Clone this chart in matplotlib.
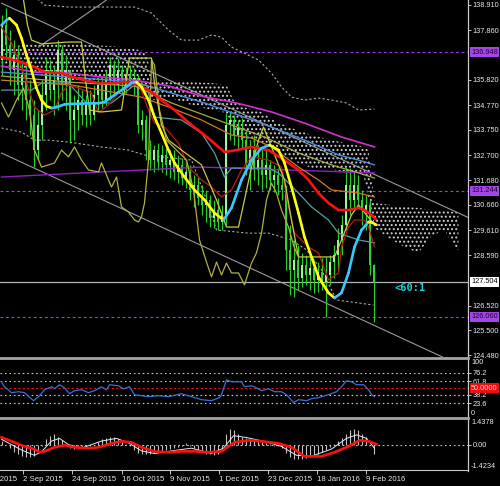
import numpy as np
import matplotlib
matplotlib.use("Agg")
import matplotlib.pyplot as plt
import matplotlib.transforms as mtransforms
from matplotlib.collections import LineCollection
from matplotlib.lines import Line2D

plt.rcParams['font.family'] = ['Liberation Sans', 'DejaVu Sans']
plt.rcParams['hatch.color'] = '#d0d0d0'
plt.rcParams['hatch.linewidth'] = 0.9

# ---------------- data ----------------
bar_open = [136.63, 138.07, 137.24, 136.21, 136.83, 135.60, 136.01, 134.98, 134.36, 132.92,
            133.95, 135.19, 136.21, 135.39, 135.80, 137.04, 135.60, 136.21, 134.16, 134.57,
            134.98, 134.36, 134.78, 134.36, 135.19, 135.60, 134.98, 135.80, 136.42, 135.60,
            136.21, 135.80, 136.01, 135.72, 135.89, 133.95, 134.16, 132.92, 132.51, 132.92,
            132.43, 132.72, 132.31, 132.51, 132.02, 132.31, 131.77, 132.02, 131.28, 131.48,
            130.95, 130.66, 130.87, 130.12, 130.45, 129.96, 130.25, 133.95, 134.16, 133.54,
            133.83, 133.33, 132.31, 132.92, 132.10, 132.51, 131.90, 132.31, 131.69, 131.90,
            131.48, 131.28, 128.81, 127.99, 128.40, 127.66, 128.19, 127.78, 128.07, 127.57,
            127.90, 127.49, 127.78, 128.31, 128.60, 129.22, 129.84, 131.48, 130.87, 131.48,
            130.87, 130.45, 130.66, 128.19]
bar_close = [138.07, 137.24, 136.21, 136.83, 135.60, 136.01, 134.98, 134.36, 132.92, 133.95,
             135.19, 136.21, 135.39, 135.80, 137.04, 135.60, 136.21, 134.16, 134.57, 134.98,
             134.36, 134.78, 134.36, 135.19, 135.60, 134.98, 135.80, 136.42, 135.60, 136.21,
             135.80, 136.01, 135.72, 135.89, 133.95, 134.16, 132.92, 132.51, 132.92, 132.43,
             132.72, 132.31, 132.51, 132.02, 132.31, 131.77, 132.02, 131.28, 131.48, 130.95,
             130.66, 130.87, 130.12, 130.45, 129.96, 130.25, 133.95, 134.16, 133.54, 133.83,
             133.33, 132.31, 132.92, 132.10, 132.51, 131.90, 132.31, 131.69, 131.90, 131.48,
             131.28, 128.81, 127.99, 128.40, 127.66, 128.19, 127.78, 128.07, 127.57, 127.90,
             127.49, 127.78, 128.31, 128.60, 129.22, 129.84, 131.48, 130.87, 131.48, 130.87,
             130.45, 130.66, 128.19, 127.50]
bar_high = [138.48, 138.77, 137.86, 137.45, 137.24, 136.63, 136.42, 135.80, 134.98, 134.57,
            135.80, 136.75, 136.63, 136.42, 137.45, 137.24, 136.83, 136.21, 135.19, 135.60,
            135.39, 135.19, 135.39, 135.60, 135.93, 135.80, 136.21, 136.75, 136.63, 136.71,
            136.42, 136.34, 136.42, 136.30, 136.01, 134.57, 134.36, 133.33, 133.13, 133.21,
            133.13, 133.00, 132.92, 132.92, 132.72, 132.60, 132.51, 132.31, 131.90, 131.77,
            131.48, 131.28, 131.07, 130.87, 130.95, 130.66, 134.45, 134.49, 134.36, 134.16,
            134.24, 133.75, 133.33, 133.54, 133.13, 133.00, 132.92, 132.51, 132.31, 132.18,
            132.10, 131.48, 129.84, 129.22, 129.01, 128.69, 128.60, 128.48, 128.40, 128.31,
            128.48, 128.52, 128.60, 129.01, 129.71, 130.25, 132.22, 132.18, 132.02, 131.90,
            131.28, 131.07, 130.87, 128.25]
bar_low = [136.01, 136.63, 135.60, 135.19, 134.98, 134.57, 134.16, 133.54, 132.22, 132.51,
           133.33, 134.57, 134.98, 134.36, 134.57, 134.98, 134.57, 133.21, 133.33, 133.75,
           133.95, 133.87, 133.95, 134.16, 134.57, 134.65, 134.78, 134.98, 135.19, 135.39,
           135.19, 135.27, 135.47, 135.19, 133.62, 133.33, 132.51, 132.10, 132.02, 132.10,
           132.02, 131.90, 131.77, 131.69, 131.56, 131.48, 131.36, 130.87, 130.58, 130.66,
           130.25, 129.96, 129.75, 129.71, 129.63, 129.63, 129.84, 133.33, 133.13, 132.92,
           133.00, 131.90, 131.28, 131.69, 131.48, 131.28, 131.36, 131.28, 131.19, 131.07,
           130.87, 127.99, 126.96, 126.87, 127.16, 127.29, 127.37, 127.16, 127.04, 127.08,
           127.16, 126.05, 127.37, 127.66, 127.99, 128.60, 129.63, 130.25, 130.45, 130.54,
           129.84, 129.63, 127.78, 125.85]

fast_x = [0, 1.25, 2, 3.75, 5, 6.25, 7.5, 8.75, 10, 11.25, 12.5, 13.75, 15.75, 17, 19.25,
          21.75, 24.25, 25.75, 27.5, 29.25, 30.75, 32.5, 33.75, 35, 36.75, 38.25, 40, 41.75,
          43.25, 45.75, 48.25, 50.75, 53.25, 55.5, 57.5, 60, 62.5, 65, 67, 69.25, 70.75, 72.5,
          74.25, 75.75, 77.5, 79.25, 81.75, 83.25, 85, 86.75, 88.25, 90, 91.75, 92.5, 93.75]
fast_y = [138.07, 138.27, 138.35, 138.07, 137.53, 136.83, 136.21, 135.47, 134.98, 134.73,
          134.65, 134.69, 134.80, 134.82, 134.83, 134.84, 134.85, 134.90, 135.10, 135.31,
          135.47, 135.68, 135.72, 135.52, 134.98, 134.28, 133.62, 132.92, 132.39, 131.81,
          131.28, 130.87, 130.33, 130.04, 130.54, 131.69, 132.51, 133.00, 133.13, 132.92,
          132.39, 131.40, 130.33, 129.34, 128.52, 127.70, 127.04, 126.83, 127.04, 127.86,
          128.93, 129.63, 129.96, 129.95, 129.84]

red_x = [0, 5, 8.25, 10.75, 15, 17.5, 20.75, 24.25, 27.5, 30.75, 33.25, 36.75, 40, 43.25,
         47.5, 50.75, 54.25, 55.75, 58.75, 62.5, 66.75, 70.75, 74.25, 76.75, 79.25, 81.75,
         84.25, 86.75, 89.25, 90.75, 92.5, 93.5]
red_y = [136.75, 136.54, 136.34, 136.13, 136.09, 135.93, 135.80, 135.68, 135.68, 135.72,
         135.68, 135.39, 134.98, 134.57, 133.95, 133.54, 133.05, 132.84, 132.92, 133.05,
         132.92, 132.51, 132.10, 131.69, 131.15, 130.74, 130.45, 130.45, 130.54, 130.45,
         130.25, 130.08]

mag_x = [0, 8.25, 16.75, 25, 33.25, 41.75, 50, 58.75, 67.5, 75.75, 85, 89.25, 93.25]
mag_y = [136.38, 136.13, 136.09, 135.93, 135.80, 135.56, 135.14, 134.86, 134.49, 134.03,
         133.46, 133.25, 133.05]

blue_x = [0, 16.75, 33.25, 42.5, 50.75, 59.25, 67.5, 75.75, 84.25, 89.25, 93.25]
blue_y = [136.13, 135.93, 135.72, 135.27, 134.86, 134.36, 133.87, 133.33, 132.72, 132.51, 132.31]

olv_x = [0, 16.75, 33.25, 42.5, 50.75, 57.5, 65.75, 74.25, 82.5, 89.25, 93.25]
olv_y = [135.97, 135.72, 135.56, 134.86, 134.36, 133.95, 133.46, 132.80, 132.31, 131.98, 131.77]

org_x = [0, 17.5, 35, 42.5, 50, 57.5, 62.5, 67.5, 74.25, 79.25, 82.5, 89.25, 93.25]
org_y = [135.80, 135.60, 135.10, 134.65, 134.16, 133.54, 133.42, 133.05, 132.22, 131.69,
         131.28, 131.15, 130.99]

teal_x = [0, 7.5, 10, 16.75, 21.25, 27.5, 33.25, 36.25, 38.25, 45, 50, 53.25, 55.75, 57.5,
          66.75, 69.25, 74.25, 77.5, 81.75, 84.25, 89.25, 93.25]
teal_y = [135.39, 135.39, 135.68, 135.68, 134.86, 134.86, 135.60, 135.60, 134.28, 134.16,
          133.62, 132.80, 131.81, 132.18, 132.18, 131.98, 131.15, 130.58, 130.04, 129.50,
          129.22, 129.10]

dred_x = [0, 2.5, 5, 8.25, 10.75, 13.25, 15, 16.75, 19.25, 22.5, 24.25, 26.75, 29.25, 31.75,
          34.25, 36.75, 38.25, 40.75, 44.25, 46.75, 50, 52.5, 55, 57.5, 60, 62.5, 66.75, 70,
          71.75, 73.25, 76.75, 79.25, 81.75, 84.25, 85, 86.75, 88.25, 90.75, 91.75, 93.25]
dred_y = [137.98, 137.33, 136.34, 134.69, 134.36, 134.57, 135.27, 135.60, 135.47, 135.27,
          134.45, 134.78, 135.27, 135.52, 135.68, 134.57, 134.03, 133.87, 133.21, 132.22,
          131.69, 131.40, 130.99, 131.28, 132.10, 132.64, 132.51, 132.22, 130.58, 129.50,
          128.93, 128.69, 127.57, 127.86, 128.93, 129.75, 130.04, 130.04, 129.75, 128.93]

lag_x = [0, 1.75, 3.75, 5.5, 7, 8.25, 10, 11.75, 13.25, 15, 16.75, 18.25, 20, 21.75, 24.25,
         25, 26.75, 27.5, 28.75, 30, 31.75, 33.25, 34.25, 35, 35.75, 36.75, 37.5, 38.25, 39.5,
         41.25, 43.75, 46.25, 48, 49.5, 51.25, 52.5, 53.75, 55, 56.25, 57.5, 59.25, 60.75,
         62.5, 63.75, 65, 66.25, 67.5, 68.75, 70, 71.75, 73, 74]
lag_y = [134.86, 134.28, 134.98, 135.47, 134.57, 132.92, 132.22, 132.31, 132.39, 132.92,
         132.64, 133.05, 132.51, 132.10, 132.02, 132.39, 131.69, 131.40, 131.81, 130.58,
         130.37, 130.04, 129.96, 130.17, 130.74, 132.51, 136.63, 136.42, 134.57, 133.33,
         132.92, 132.51, 131.28, 129.22, 128.31, 127.70, 128.31, 127.78, 128.27, 127.86,
         127.86, 127.37, 128.27, 128.69, 129.50, 130.87, 131.56, 131.15, 130.45, 129.75,
         129.01, 128.60]

chan_x = [5.5, 6.5, 7.5, 10, 16.5, 20, 21, 22, 25, 30, 32, 37.5, 38.25, 40, 41.75, 45, 50,
          53.75, 56.25, 59.25, 60.75, 62.5, 64.25, 65.5, 67.5, 70.75, 72.5, 74.25, 83.25, 85,
          87.5, 89.25, 91.25, 93.25]
chan_y = [139.10, 138.07, 137.45, 137.29, 137.37, 137.37, 135.80, 134.57, 134.49, 134.57,
          136.71, 136.71, 135.68, 133.95, 133.33, 132.92, 132.31, 130.87, 129.75, 129.75,
          130.87, 132.22, 133.33, 133.87, 133.05, 131.69, 130.04, 128.52, 128.52, 129.22,
          130.25, 130.66, 130.25, 129.84]

bb_up_x = [8.75, 10.75, 16.75, 25, 33.25, 37.5, 41.75, 45, 49.25, 52.5, 55, 57.5, 60.75,
           64.25, 67.5, 70, 72.5, 75.75, 79.25, 82.5, 86.25, 89.25, 93.25]
bb_up_y = [139.18, 138.89, 138.81, 138.81, 138.81, 138.56, 137.86, 137.45, 137.45, 137.66,
           137.57, 137.16, 136.91, 136.63, 136.09, 135.52, 135.10, 134.98, 135.06, 134.98,
           134.86, 134.57, 134.61]
bb_lo_x = [0, 5, 8.25, 11.75, 16.75, 25, 31.75, 35.75, 47.5, 51.25, 53.75, 61.75, 66.75,
           72.5, 76.25, 80, 83.75, 93]
bb_lo_y = [133.83, 133.66, 133.33, 133.33, 133.25, 133.05, 132.92, 132.72, 132.51, 130.87,
           129.63, 129.50, 129.50, 129.22, 128.81, 127.99, 126.75, 126.54]

cloud_x = [0, 3.75, 7.5, 12.5, 17.5, 22.5, 27.5, 32.5, 36.25, 37.5, 42.5, 47.5, 52.5, 56.25,
           58, 61.25, 65, 68.75, 72.5, 77.5, 82.5, 87.5, 90.5, 91.75, 93.25, 97.5, 101.25,
           104.25, 107.5, 110.75, 113.25, 114.25]
cloud_top = [137.16, 137.20, 137.33, 137.33, 137.29, 137.24, 137.20, 137.12, 136.96, 135.80,
             135.80, 135.72, 135.68, 135.60, 134.98, 134.65, 134.49, 134.08, 133.83, 133.54,
             133.33, 133.17, 133.05, 132.92, 130.74, 130.66, 130.58, 130.54, 130.45, 130.45,
             130.37, 130.37]
cloud_bot = [136.42, 136.34, 136.13, 135.89, 135.80, 135.80, 135.72, 135.68, 135.64, 134.98,
             135.06, 134.78, 134.57, 134.45, 133.75, 133.33, 133.21, 132.92, 132.51, 132.18,
             132.10, 132.02, 131.90, 130.87, 129.71, 129.22, 128.89, 128.69, 129.38, 129.63,
             128.93, 128.81]

ma200_x = [0, 25, 50, 57.5, 93.25]
ma200_y = [131.81, 132.02, 132.22, 132.18, 131.98]

trend_up_x = [0, 117]
trend_up_y = [138.97, 130.12]
trend_lo_x = [0, 110.25]
trend_lo_y = [132.80, 124.40]
fan_x = [9.25, 26.25]
fan_y = [137.16, 139.10]

levels = [136.948, 131.244, 126.060]
last_price = 127.504

# 136.840 and 127.550 sit under the price tags in the reference, so they are not listed
price_ticks = [138.910, 137.860, 135.820, 134.770, 133.750, 132.700, 131.680,
               130.660, 129.610, 128.590, 126.520, 125.500, 124.480]

rsi_x = [0, 0.75, 2.5, 4.25, 5.75, 8, 9.25, 10.75, 12.5, 13.25, 14.5, 15.75, 17, 18.25, 20,
         21.75, 23.25, 25, 26.25, 27, 29.25, 30.5, 32, 33.25, 35, 36.75, 39.25, 41.75, 45,
         47.5, 50, 52.5, 54.5, 55, 56.25, 57.5, 60, 60.75, 62.5, 63.25, 65, 66.75, 68.25, 70,
         71.25, 73, 74.25, 76.25, 77.5, 79.25, 80, 81.75, 83.75, 85, 86.25, 87.5, 88.75, 90.5,
         91.75, 92.5, 93.25]
rsi_y = [60.7, 52.1, 41.9, 43.6, 41.9, 28.2, 35.0, 47.0, 52.1, 48.7, 55.6, 50.4, 40.2, 45.3,
         47.0, 41.9, 45.3, 52.1, 47.0, 55.6, 53.8, 48.7, 52.1, 38.5, 36.8, 35.0, 36.8, 35.0,
         40.2, 35.0, 29.9, 28.2, 33.3, 38.5, 64.1, 60.7, 60.7, 52.1, 53.8, 52.1, 45.3, 48.7,
         43.6, 43.6, 38.5, 24.8, 29.9, 28.2, 31.6, 33.3, 35.0, 38.5, 43.6, 52.1, 62.4, 60.7,
         55.6, 55.6, 47.0, 38.5, 35.0]
rsi_levels = [76.2, 61.8, 38.2, 23.6]

macd_hist = [0.2, 0.0, -0.2, -0.4, -0.55, -0.65, -0.7, -0.72, -0.65, -0.45,
             -0.1, 0.3, 0.5, 0.58, 0.45, 0.25, -0.05, -0.2, -0.25, -0.2,
             -0.2, -0.15, -0.1, 0.0, 0.15, 0.3, 0.38, 0.42, 0.4, 0.3,
             0.2, 0.05, -0.1, -0.3, -0.45, -0.52, -0.55, -0.5, -0.45, -0.4,
             -0.35, -0.3, -0.25, -0.2, -0.15, -0.1, 0.1, -0.1, -0.2, -0.3,
             -0.4, -0.5, -0.55, -0.58, -0.55, -0.3, 0.6, 0.86, 0.8, 0.6,
             0.45, 0.35, 0.3, 0.25, 0.2, 0.15, 0.1, 0.05, -0.05, -0.1,
             -0.2, -0.45, -0.7, -0.8, -0.82, -0.8, -0.75, -0.7, -0.6, -0.5,
             -0.4, -0.3, -0.15, 0.05, 0.2, 0.35, 0.6, 0.8, 0.86, 0.8,
             0.6, 0.4, 0.0, -0.5]
macd_w_x = [0, 2.5, 5, 8.25, 10, 12.5, 14.5, 16.75, 20, 25, 28.75, 31.75, 35, 38.25, 42.5,
            47.5, 52.5, 55.5, 58, 61.25, 66.25, 70, 73.75, 77.5, 82.5, 86.25, 88.75, 91.25, 93.25]
macd_w_y = [0.3, 0.0, -0.3, -0.6, -0.4, 0.2, 0.35, 0.0, -0.2, 0.2, 0.35, 0.1, -0.35, -0.5,
            -0.35, -0.2, -0.5, -0.2, 0.5, 0.4, 0.15, -0.1, -0.6, -0.65, -0.25, 0.35, 0.55,
            0.35, -0.2]
macd_r_x = [0, 2.5, 5, 8.25, 9.5, 10.75, 13.25, 15.75, 18.25, 21.75, 24.25, 27.5, 30, 32.5,
            35, 38.25, 41.75, 45, 48.25, 51.75, 55, 58.25, 61.75, 65, 69.25, 72.5, 75.75, 80,
            83.25, 86.75, 89.5, 91.75, 93.75]
macd_r_y = [0.41, 0.19, -0.04, -0.26, -0.43, -0.38, -0.15, -0.04, -0.15, -0.21, -0.15, 0.07,
            0.19, 0.13, -0.15, -0.38, -0.43, -0.38, -0.38, -0.43, -0.38, 0.13, 0.24, 0.19,
            0.07, -0.15, -0.66, -0.66, -0.43, -0.10, 0.24, 0.19, 0.02]
macd_max = 1.4378
macd_min = -1.4234

date_pos = [5.4, 17.6, 30.1, 42.1, 54.4, 66.6, 78.9, 91.1]
date_labels = ['2 Sep 2015', '24 Sep 2015', '16 Oct 2015', '9 Nov 2015', '1 Dec 2015',
               '23 Dec 2015', '18 Jan 2016', '9 Feb 2016']
cut_date_pos = -6.9
cut_date_label = '11 Aug 2015'

# ---------------- figure ----------------
W, H = 500, 486
fig = plt.figure(figsize=(W / 100, H / 100), dpi=100, facecolor='black')
AX_R = 468 / W
ax = fig.add_axes([0, 1 - 357 / H, AX_R, 357 / H])
ax_rsi = fig.add_axes([0, 1 - 417 / H, AX_R, 58 / H])
ax_macd = fig.add_axes([0, 1 - 470 / H, AX_R, 51 / H])

XL = (-0.375, 116.625)
FS = 5.3
TXT = '#e8e8e8'
for a in (ax, ax_rsi, ax_macd):
    a.set_facecolor('black')
    a.set_xlim(*XL)
    for s in a.spines.values():
        s.set_visible(False)
    a.yaxis.tick_right()
    a.tick_params(axis='y', direction='out', length=2.5, width=0.7, colors='#c8c8c8',
                  labelcolor=TXT, labelsize=FS, pad=1.0)
    a.tick_params(axis='x', bottom=False, labelbottom=False)

# ---- main panel ----
ax.set_ylim(124.40, 139.10)
ax.set_yticks(price_ticks)
ax.set_yticklabels([f'{t:.3f}' for t in price_ticks])

# cloud
ax.fill_between(cloud_x, cloud_bot, cloud_top, facecolor='none', edgecolor='#d0d0d0',
                hatch='....', linewidth=0, zorder=1)

# horizontal levels
for lv in levels:
    ax.axhline(lv, color='#9a40ee', lw=0.8, ls=(0, (2.5, 2.5)), zorder=2)
ax.axhline(last_price, color='#b4b4b4', lw=0.9, zorder=2)

# trend channel lines
ax.plot(trend_up_x, trend_up_y, color='#9a9a9a', lw=0.8, zorder=2)
ax.plot(trend_lo_x, trend_lo_y, color='#9a9a9a', lw=0.8, zorder=2)
ax.plot(fan_x, fan_y, color='#9a9a9a', lw=0.8, zorder=2)

# dotted envelopes
ax.plot(bb_up_x, bb_up_y, color='#a8a8a8', lw=0.8, ls=(0, (2, 2)), zorder=2)
ax.plot(bb_lo_x, bb_lo_y, color='#a8a8a8', lw=0.8, ls=(0, (2, 2)), zorder=2)

# candles
xb = np.arange(len(bar_close))
o = np.array(bar_open); c = np.array(bar_close)
ax.vlines(xb, bar_low, bar_high, color='#2ccc2c', lw=0.9, zorder=3)
up = c >= o
ax.bar(xb[up], (c - o)[up], bottom=o[up], width=0.5, color='#9cf59c', linewidth=0, zorder=3)
ax.bar(xb[~up], (o - c)[~up], bottom=c[~up], width=0.5, color='#34d134', linewidth=0, zorder=3)

# moving averages
ax.plot(ma200_x, ma200_y, color='#9020c0', lw=1.0, zorder=4)
ax.plot(mag_x, mag_y, color='#d030d0', lw=1.2, zorder=4)
ax.plot(blue_x, blue_y, color='#4a8ee0', lw=1.0, zorder=4)
ax.plot(olv_x, olv_y, color='#a8a850', lw=0.9, zorder=4)
ax.plot(org_x, org_y, color='#d07828', lw=0.9, zorder=4)
ax.plot(teal_x, teal_y, color='#5a9ea0', lw=0.9, zorder=4)
ax.plot(dred_x, dred_y, color='#c01818', lw=0.9, zorder=4)
ax.plot(lag_x, lag_y, color='#b0b040', lw=0.9, zorder=4)
ax.plot(chan_x, chan_y, color='#c8c848', lw=0.9, zorder=4)
ax.plot(red_x, red_y, color='#ff1010', lw=1.9, zorder=5)

pts = np.column_stack([fast_x, fast_y])
segs = np.stack([pts[:-1], pts[1:]], axis=1)
seg_cols = ['#38c8ff' if b > a else '#ffff10' for a, b in zip(fast_y[:-1], fast_y[1:])]
ax.add_collection(LineCollection(segs, colors=seg_cols, linewidths=1.9, capstyle='round',
                                 zorder=6))

ax.text(98.25, 127.24, '<60:1', color='#22cfcf', fontsize=7.5, family='DejaVu Sans Mono',
        fontweight='bold', va='center', ha='left', zorder=7)

# price tags on the axis
tr_main = mtransforms.blended_transform_factory(ax.transAxes, ax.transData)
tag_x = 1 + 3.0 / 468
for lv in levels:
    ax.text(tag_x, lv, f'{lv:.3f}', transform=tr_main, fontsize=FS, color='#200030',
            va='center', ha='left', clip_on=False, zorder=10,
            bbox=dict(boxstyle='square,pad=0.2', fc='#a445e8', ec='none'))
ax.text(tag_x, last_price, f'{last_price:.3f}', transform=tr_main, fontsize=FS, color='black',
        va='center', ha='left', clip_on=False, zorder=10,
        bbox=dict(boxstyle='square,pad=0.2', fc='white', ec='none'))

# ---- RSI panel ----
ax_rsi.set_ylim(0, 100)
for lv in rsi_levels:
    ax_rsi.axhline(lv, color='#c8c8c8', lw=0.8, ls=(0, (1.5, 2.5)))
ax_rsi.axhline(50, color='#e01010', lw=0.8, ls=(0, (2, 2)))
ax_rsi.plot(rsi_x, rsi_y, color='#3a70d8', lw=0.9)
ax_rsi.set_yticks(rsi_levels)
ax_rsi.set_yticklabels([f'{v:g}' for v in rsi_levels])
tr_rsi = mtransforms.blended_transform_factory(ax_rsi.transAxes, ax_rsi.transData)
ax_rsi.text(tag_x, 100, '100', transform=tr_rsi, fontsize=FS, color=TXT, va='top',
            ha='left', clip_on=False)
ax_rsi.text(tag_x, 0, '0', transform=tr_rsi, fontsize=FS, color=TXT, va='bottom',
            ha='left', clip_on=False)
ax_rsi.text(tag_x, 50, '50.0000', transform=tr_rsi, fontsize=FS, color='#ffd8d8',
            va='center', ha='left', clip_on=False, zorder=10,
            bbox=dict(boxstyle='square,pad=0.2', fc='#ee1010', ec='none'))

# ---- MACD panel ----
ax_macd.set_ylim(macd_min, macd_max)
ax_macd.axhline(0, color='#c8c8c8', lw=0.8, ls=(0, (1.5, 2.5)))
ax_macd.vlines(np.arange(len(macd_hist)), 0, macd_hist, color='#c4c4c4', lw=0.8)
ax_macd.plot(macd_w_x, macd_w_y, color='#e8e8e8', lw=0.7)
ax_macd.plot(macd_r_x, macd_r_y, color='#ff1010', lw=1.9)
ax_macd.set_yticks([0])
ax_macd.set_yticklabels(['0.00'])
tr_m = mtransforms.blended_transform_factory(ax_macd.transAxes, ax_macd.transData)
ax_macd.text(tag_x, macd_max, f'{macd_max:.4f}', transform=tr_m, fontsize=FS, color=TXT,
             va='top', ha='left', clip_on=False)
ax_macd.text(tag_x, macd_min, f'{macd_min:.4f}', transform=tr_m, fontsize=FS, color=TXT,
             va='bottom', ha='left', clip_on=False)

ax_macd.spines['bottom'].set_visible(True)
ax_macd.spines['bottom'].set_color('#c8c8c8')
ax_macd.spines['bottom'].set_linewidth(0.8)
ax_macd.tick_params(axis='x', bottom=True, labelbottom=True, direction='out', length=3,
                    width=0.7, colors='#c8c8c8', labelcolor=TXT, labelsize=5.6, pad=1.5)
ax_macd.set_xticks(date_pos)
ax_macd.set_xticklabels(date_labels, ha='left')
ax_macd.text(cut_date_pos, -5.5 / 51, cut_date_label,
             transform=mtransforms.blended_transform_factory(ax_macd.transData, ax_macd.transAxes),
             fontsize=5.6, color=TXT, ha='left', va='top', clip_on=False)

# ---- frame lines ----
fig.add_artist(Line2D([AX_R, AX_R], [1 - 471 / H, 1], transform=fig.transFigure,
                      color='#c8c8c8', lw=0.9))
for ysep in (358, 418):
    fig.add_artist(Line2D([0, AX_R], [1 - ysep / H] * 2, transform=fig.transFigure,
                          color='#a4a4a4', lw=2.0))

fig.savefig('out.png', dpi=100, facecolor='black')
